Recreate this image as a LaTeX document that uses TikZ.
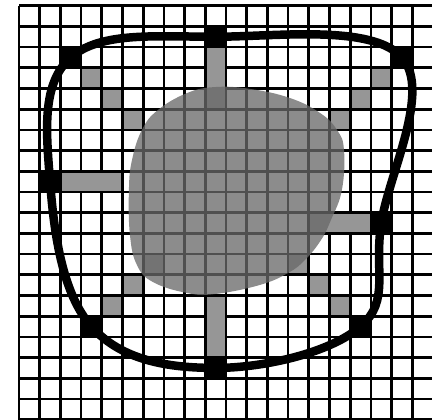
\documentclass[tikz,border=0pt]{standalone}
\definecolor{raygray}{RGB}{150,150,150}
\definecolor{blobgray}{RGB}{105,105,105}
\tikzset{
  gridline/.style={draw=black, line width=0.13cm},
  rayfill/.style={fill=raygray},
  blobfill/.style={fill=blobgray, fill opacity=0.765},
  blacksq/.style={rectangle, fill=black, draw=none, inner sep=0pt, minimum width=1.13cm, minimum height=1.13cm},
  bigcurve/.style={draw=black, line width=0.41cm, line join=round}
}
\newcommand{\raycell}[2]{\fill[rayfill] (#1+0.065,-#2-0.065) rectangle (#1+0.935,-#2-0.935);}
\begin{document}
\begin{tikzpicture}
\useasboundingbox (-0.918,-20.015) rectangle (19.952,0.275);
\fill[white] (-0.918,-20.015) rectangle (19.952,0.275);
% grid
\draw[gridline] (0,-20) grid (20,0);
% straight rays
\fill[rayfill] (9.065,-2.065) rectangle (9.935,-4.935);
\fill[rayfill] (9.065,-14.065) rectangle (9.935,-16.935);
\fill[rayfill] (2.065,-8.065) rectangle (4.935,-8.935);
\fill[rayfill] (14.065,-10.065) rectangle (16.935,-10.935);
% diagonal rays
\raycell{3}{3}\raycell{4}{4}\raycell{5}{5}
\raycell{17}{3}\raycell{16}{4}\raycell{15}{5}
\raycell{4}{14}\raycell{5}{13}\raycell{6}{12}
\raycell{15}{14}\raycell{14}{13}\raycell{13}{12}
% blob
\fill[blobfill] plot[smooth cycle, tension=0.7] coordinates {
 (9.47,-3.93) (11.16,-4.02) (13.09,-4.46) (14.54,-5.18) (15.36,-6.00)
 (15.70,-6.97) (15.60,-8.90) (15.07,-10.35) (14.59,-11.32) (13.82,-12.28)
 (13.0,-12.91) (11.64,-13.49) (9.47,-13.93) (8.12,-13.88) (6.47,-13.35)
 (5.70,-12.53) (5.36,-11.08) (5.31,-8.90) (5.46,-7.45) (5.94,-6.00)
 (6.71,-5.04) (8.12,-4.22)};
% black squares
\node[blacksq] (A) at (2.5,-2.5) {};
\node[blacksq] (B) at (9.5,-1.5) {};
\node[blacksq] (C) at (18.5,-2.5) {};
\node[blacksq] (D) at (17.5,-10.5) {};
\node[blacksq] (E) at (16.5,-15.5) {};
\node[blacksq] (F) at (9.5,-17.5) {};
\node[blacksq] (G) at (3.5,-15.5) {};
\node[blacksq] (H) at (1.5,-8.5) {};
% closed curve
\draw[bigcurve] plot[smooth cycle, tension=0.65] coordinates {
 (A.center) (B.center) (C.center) (D.center) (E.center) (F.center) (G.center) (H.center)};
\end{tikzpicture}
\end{document}
